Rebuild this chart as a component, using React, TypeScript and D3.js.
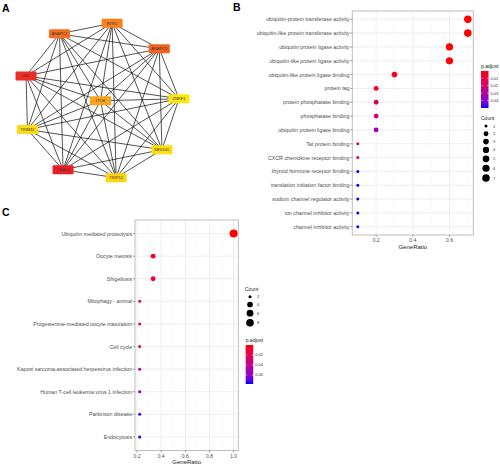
import React from "react";
import * as d3 from "d3";

// ---------- Panel A: PPI network ----------
const ringNodes = ["ZNRF1", "NEDD4L", "TRIP12", "UBA52", "TRIM32", "UBC", "ANAPC7", "BTRC", "ANAPC5"];
const centerNode = "ITCH";
const nodeScore: Record<string, number> = {
  UBA52: 1.0, UBC: 0.93, ANAPC5: 0.72, ANAPC7: 0.68, BTRC: 0.6, ITCH: 0.42,
  TRIP12: 0.12, TRIM32: 0.08, NEDD4L: 0.05, ZNRF1: 0.0,
};

// ---------- Panel B: GO enrichment ----------
const bTerms = [
  "ubiquitin-protein transferase activity",
  "ubiquitin-like protein transferase activity",
  "ubiquitin protein ligase activity",
  "ubiquitin-like protein ligase activity",
  "ubiquitin-like protein ligase binding",
  "protein tag",
  "protein phosphatase binding",
  "phosphatase binding",
  "ubiquitin protein ligase binding",
  "Tat protein binding",
  "CXCR chemokine receptor binding",
  "thyroid hormone receptor binding",
  "translation initiation factor binding",
  "sodium channel regulator activity",
  "ion channel inhibitor activity",
  "channel inhibitor activity",
];
const bRatio = [0.7, 0.7, 0.6, 0.6, 0.3, 0.2, 0.2, 0.2, 0.2, 0.1, 0.1, 0.1, 0.1, 0.1, 0.1, 0.1];
const bCount = [7, 7, 6, 6, 3, 2, 2, 2, 2, 1, 1, 1, 1, 1, 1, 1];
const bPadj = [0.0004, 0.0004, 0.0008, 0.0008, 0.002, 0.005, 0.015, 0.021, 0.035, 0.02, 0.017, 0.0499, 0.0499, 0.0499, 0.0499, 0.0499];
const bXTicks = [0.2, 0.4, 0.6];
const bPTicks = [0.01, 0.02, 0.03, 0.04];
const bCountTicks = [1, 2, 3, 4, 5, 6, 7];

// ---------- Panel C: KEGG enrichment ----------
const cTerms = [
  "Ubiquitin mediated proteolysis",
  "Oocyte meiosis",
  "Shigellosis",
  "Mitophagy - animal",
  "Progesterone-mediated oocyte maturation",
  "Cell cycle",
  "Kaposi sarcoma-associated herpesvirus infection",
  "Human T-cell leukemia virus 1 infection",
  "Parkinson disease",
  "Endocytosis",
];
const cRatio = [1.0, 0.3333, 0.3333, 0.2222, 0.2222, 0.2222, 0.2222, 0.2222, 0.2222, 0.2222];
const cCount = [9, 3, 3, 2, 2, 2, 2, 2, 2, 2];
const cPadj = [0.0001, 0.006, 0.008, 0.016, 0.018, 0.027, 0.05, 0.07, 0.074, 0.078];
const cXTicks = [0.2, 0.4, 0.6, 0.8, 1.0];
const cPTicks = [0.02, 0.04, 0.06];
const cCountTicks = [2, 4, 6, 8];

const FONT = "'Liberation Sans', Arial, Helvetica, sans-serif";

function NetworkPanel() {
  const cx = 100.5, cy = 100.8, R = 78.5;
  const pos: Record<string, [number, number]> = {};
  ringNodes.forEach((n, i) => {
    const a = ((i * 40 - 1.5) * Math.PI) / 180;
    pos[n] = [cx + R * Math.cos(a), cy + R * Math.sin(a)];
  });
  pos[centerNode] = [cx, cy];
  const all = [...ringNodes, centerNode];
  const edges: [string, string][] = [];
  for (let i = 0; i < all.length; i++)
    for (let j = i + 1; j < all.length; j++) edges.push([all[i], all[j]]);
  const color = d3
    .scaleLinear<string>()
    .domain([0, 0.5, 1])
    .range(["#FFE60F", "#FA9A1C", "#EE1C24"])
    .interpolate(d3.interpolateRgb);
  const w = 21, h = 9;
  return (
    <g>
      {edges.map(([a, b], i) => (
        <line key={i} x1={pos[a][0]} y1={pos[a][1]} x2={pos[b][0]} y2={pos[b][1]} stroke="#1a1a1a" strokeWidth={0.75} />
      ))}
      {all.map((n) => (
        <g key={n}>
          <rect x={pos[n][0] - w / 2} y={pos[n][1] - h / 2} width={w} height={h} rx={1} fill={color(nodeScore[n])} />
          <text x={pos[n][0]} y={pos[n][1]} textAnchor="middle" dominantBaseline="central" fontSize={4} fill="#333" fontFamily={FONT}>
            {n}
          </text>
        </g>
      ))}
    </g>
  );
}

type DotProps = {
  id: string;
  terms: string[];
  ratio: number[];
  count: number[];
  padj: number[];
  xTicks: number[];
  pTicks: number[];
  countTicks: number[];
  box: { left: number; right: number; top: number; bottom: number };
  rRange: [number, number];
  labelSize: number;
  countLegend: { x: number; y: number };
  colorLegend: { x: number; y: number; h: number };
  countFirst: boolean;
};

function DotPlot(p: DotProps) {
  const { left, right, top, bottom } = p.box;
  const [xmin, xmax] = d3.extent(p.ratio) as [number, number];
  const pad = (xmax - xmin) * 0.05;
  const x = d3.scaleLinear().domain([xmin - pad, xmax + pad]).range([left, right]);
  const y = d3.scalePoint<string>().domain(p.terms).range([top, bottom]).padding(0.6);
  const [pmin, pmax] = d3.extent(p.padj) as [number, number];
  const col = d3.scaleLinear<string>().domain([pmin, pmax]).range(["red", "blue"]).interpolate(d3.interpolateLab);
  const [cmin, cmax] = d3.extent(p.count) as [number, number];
  const cNorm = d3.scaleLinear().domain([cmin, cmax]).range([0, 1]);
  const rScale = d3.scaleLinear().domain([0, 1]).range(p.rRange);
  const r = (c: number) => rScale(Math.sqrt(Math.max(0, cNorm(c))));

  const [d0, d1] = x.domain();
  const minor: number[] = [];
  for (let i = 0; i < p.xTicks.length + 1; i++) {
    const step = p.xTicks[1] - p.xTicks[0];
    const v = p.xTicks[0] - step / 2 + i * step;
    if (v > d0 && v < d1) minor.push(v);
  }
  const gradStops = d3.range(0, 1.0001, 0.1);

  // count legend
  const cl = p.countLegend;
  const keyYs: number[] = [];
  let yy = cl.y + 8;
  p.countTicks.forEach((c, i) => {
    if (i > 0) yy += Math.max(7.8, r(p.countTicks[i - 1]) + r(c) + 2.4);
    keyYs.push(yy);
  });
  const ccl = p.colorLegend;
  const py = d3.scaleLinear().domain([pmin, pmax]).range([ccl.y + 5, ccl.y + 5 + ccl.h]);

  return (
    <g fontFamily={FONT}>
      <defs>
        <linearGradient id={p.id} x1="0" y1="0" x2="0" y2="1">
          {gradStops.map((t) => (
            <stop key={t} offset={t} stopColor={col(pmin + t * (pmax - pmin))} />
          ))}
        </linearGradient>
      </defs>
      <rect x={left} y={top} width={right - left} height={bottom - top} fill="white" />
      {minor.map((v) => (
        <line key={"m" + v} x1={x(v)} x2={x(v)} y1={top} y2={bottom} stroke="#F3F3F3" strokeWidth={0.5} />
      ))}
      {p.xTicks.map((v) => (
        <line key={"g" + v} x1={x(v)} x2={x(v)} y1={top} y2={bottom} stroke="#E6E6E6" strokeWidth={0.7} />
      ))}
      {p.terms.map((t) => (
        <line key={"h" + t} x1={left} x2={right} y1={y(t)} y2={y(t)} stroke="#E6E6E6" strokeWidth={0.7} />
      ))}
      <rect x={left} y={top} width={right - left} height={bottom - top} fill="none" stroke="#BDBDBD" strokeWidth={1} />
      {p.terms.map((t, i) => (
        <circle key={"c" + t} cx={x(p.ratio[i])} cy={y(t)} r={r(p.count[i])} fill={col(p.padj[i])} />
      ))}
      {p.terms.map((t) => (
        <g key={"l" + t}>
          <line x1={left - 2} x2={left} y1={y(t)} y2={y(t)} stroke="#444" strokeWidth={0.5} />
          <text x={left - 2.8} y={y(t)} textAnchor="end" dominantBaseline="central" fontSize={p.labelSize} fill="#4D4D4D">
            {t}
          </text>
        </g>
      ))}
      {p.xTicks.map((v) => (
        <g key={"t" + v}>
          <line x1={x(v)} x2={x(v)} y1={bottom} y2={bottom + 2} stroke="#444" strokeWidth={0.5} />
          <text x={x(v)} y={bottom + 5} textAnchor="middle" dominantBaseline="central" fontSize={5} fill="#4D4D4D">
            {d3.format(".1f")(v)}
          </text>
        </g>
      ))}
      <text x={(left + right) / 2} y={bottom + 11.5} textAnchor="middle" dominantBaseline="central" fontSize={6} fill="#222">
        GeneRatio
      </text>
      {/* count legend */}
      <text x={cl.x} y={cl.y} dominantBaseline="central" fontSize={5} fill="#222">Count</text>
      {p.countTicks.map((c, i) => (
        <g key={"k" + c}>
          <circle cx={cl.x + 5} cy={keyYs[i]} r={r(c)} fill="black" />
          <text x={cl.x + 12} y={keyYs[i]} dominantBaseline="central" fontSize={4} fill="#333">{c}</text>
        </g>
      ))}
      {/* color legend */}
      <text x={ccl.x} y={ccl.y} dominantBaseline="central" fontSize={5} fill="#222">p.adjust</text>
      <rect x={ccl.x} y={ccl.y + 5} width={7.5} height={ccl.h} fill={`url(#${p.id})`} />
      {p.pTicks.map((v) => (
        <g key={"p" + v}>
          <line x1={ccl.x} x2={ccl.x + 1.5} y1={py(v)} y2={py(v)} stroke="white" strokeWidth={0.5} />
          <line x1={ccl.x + 6} x2={ccl.x + 7.5} y1={py(v)} y2={py(v)} stroke="white" strokeWidth={0.5} />
          <text x={ccl.x + 9.5} y={py(v)} dominantBaseline="central" fontSize={4} fill="#333">
            {d3.format(".2f")(v)}
          </text>
        </g>
      ))}
    </g>
  );
}

export default function App() {
  return (
    <svg width={500} height={465} style={{ position: "absolute", left: 0, top: 0, background: "white" }}>
      <rect width={500} height={465} fill="white" />
      <text x={2} y={12} fontSize={10.5} fontWeight="bold" fontFamily={FONT}>A</text>
      <text x={233} y={11} fontSize={10.5} fontWeight="bold" fontFamily={FONT}>B</text>
      <text x={2} y={216} fontSize={10.5} fontWeight="bold" fontFamily={FONT}>C</text>
      <NetworkPanel />
      <DotPlot
        id="gradB"
        terms={bTerms}
        ratio={bRatio}
        count={bCount}
        padj={bPadj}
        xTicks={bXTicks}
        pTicks={bPTicks}
        countTicks={bCountTicks}
        box={{ left: 352.3, right: 473.3, top: 11, bottom: 235 }}
        rRange={[1.5, 3.8]}
        labelSize={5.3}
        countLegend={{ x: 481, y: 118 }}
        colorLegend={{ x: 481, y: 66, h: 37 }}
        countFirst={false}
      />
      <DotPlot
        id="gradC"
        terms={cTerms}
        ratio={cRatio}
        count={cCount}
        padj={cPadj}
        xTicks={cXTicks}
        pTicks={cPTicks}
        countTicks={cCountTicks}
        box={{ left: 135, right: 238.3, top: 220, bottom: 450.5 }}
        rRange={[1.5, 4.0]}
        labelSize={5.3}
        countLegend={{ x: 245, y: 288.7 }}
        colorLegend={{ x: 245.7, y: 340, h: 39 }}
        countFirst={true}
      />
    </svg>
  );
}
